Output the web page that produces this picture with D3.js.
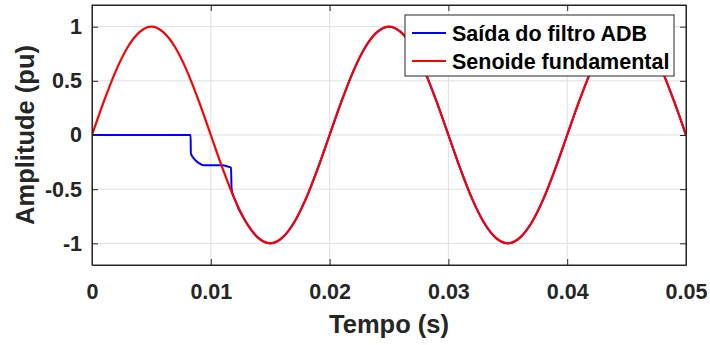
<!DOCTYPE html>
<html><head><meta charset="utf-8">
<script src="https://cdn.jsdelivr.net/npm/d3@7"></script>
<style>body{margin:0;background:#fff}svg{display:block}text{font-family:"Liberation Sans",Arial,sans-serif;font-weight:bold;fill:#262626}</style>
</head><body><svg id="c" width="710" height="345"></svg>
<script>
const xTicks=[0,0.01,0.02,0.03,0.04,0.05];
const yTicks=[-1,-0.5,0,0.5,1];
const xTickLabels=["0","0.01","0.02","0.03","0.04","0.05"];
const yTickLabels=["-1","-0.5","0","0.5","1"];
const seriesNames=["Saída do filtro ADB","Senoide fundamental"];
// red: fundamental, sampled every 1 ms
const redT=[0,0.001,0.002,0.003,0.004,0.005,0.006,0.007,0.008,0.009,0.010,0.011,0.012,0.013,0.014,0.015,0.016,0.017,0.018,0.019,0.020,0.021,0.022,0.023,0.024,0.025,0.026,0.027,0.028,0.029,0.030,0.031,0.032,0.033,0.034,0.035,0.036,0.037,0.038,0.039,0.040,0.041,0.042,0.043,0.044,0.045,0.046,0.047,0.048,0.049,0.050];
const redV=[0,0.31,0.59,0.81,0.95,1,0.95,0.81,0.59,0.31,0,-0.31,-0.59,-0.81,-0.95,-1,-0.95,-0.81,-0.59,-0.31,0,0.31,0.59,0.81,0.95,1,0.95,0.81,0.59,0.31,0,-0.31,-0.59,-0.81,-0.95,-1,-0.95,-0.81,-0.59,-0.31,0,0.31,0.59,0.81,0.95,1,0.95,0.81,0.59,0.31,0];
// blue: filter output
const blueT=[0,0.0083,0.00832,0.0086,0.0090,0.0094,0.0098,0.0104,0.0110,0.0114,0.0117,0.01175,0.012,0.013,0.014,0.015,0.016,0.017,0.018,0.019,0.020,0.021,0.022,0.023,0.024,0.025,0.026,0.027,0.028,0.029,0.030,0.031,0.032,0.033,0.034,0.035,0.036,0.037,0.038,0.039,0.040,0.041,0.042,0.043,0.044,0.045,0.046,0.047,0.048,0.049,0.050];
const blueV=[0,0,-0.17,-0.22,-0.26,-0.28,-0.28,-0.28,-0.28,-0.29,-0.30,-0.50,-0.59,-0.81,-0.95,-1,-0.95,-0.81,-0.59,-0.31,0,0.31,0.59,0.81,0.95,1,0.95,0.81,0.59,0.31,0,-0.31,-0.59,-0.81,-0.95,-1,-0.95,-0.81,-0.59,-0.31,0,0.31,0.59,0.81,0.95,1,0.95,0.81,0.59,0.31,0];

const svg=d3.select("#c");
const m={l:92,r:686,t:5,b:265};
const x=d3.scaleLinear().domain([0,0.05]).range([m.l,m.r]);
const y=d3.scaleLinear().domain([-1.2,1.2]).range([m.b,m.t]);

// grid
svg.append("g").selectAll("line").data(xTicks).join("line")
 .attr("x1",d=>x(d)).attr("x2",d=>x(d)).attr("y1",m.t).attr("y2",m.b).attr("stroke","#dfdfdf").attr("stroke-width",1);
svg.append("g").selectAll("line").data(yTicks).join("line")
 .attr("y1",d=>y(d)).attr("y2",d=>y(d)).attr("x1",m.l).attr("x2",m.r).attr("stroke","#dfdfdf").attr("stroke-width",1);

const line=d3.line().x(d=>x(d[0])).y(d=>y(d[1])).curve(d3.curveMonotoneX);
svg.append("clipPath").attr("id","cp").append("rect").attr("x",m.l).attr("y",m.t).attr("width",m.r-m.l).attr("height",m.b-m.t);
svg.append("path").datum(blueT.map((t,i)=>[t,blueV[i]])).attr("d",line)
 .attr("fill","none").attr("stroke","#0000ff").attr("stroke-width",2).attr("clip-path","url(#cp)");
svg.append("path").datum(redT.map((t,i)=>[t,redV[i]])).attr("d",line)
 .attr("fill","none").attr("stroke","#ff0000").attr("stroke-width",2.2).attr("clip-path","url(#cp)");

// axes
const fs=21.5;
const xa=svg.append("g").attr("transform",`translate(0,${m.b})`).call(d3.axisBottom(x).tickValues(xTicks).tickFormat((d,i)=>xTickLabels[i]).tickSizeInner(-6).tickSizeOuter(0).tickPadding(19));
const xt=svg.append("g").attr("transform",`translate(0,${m.t})`).call(d3.axisTop(x).tickValues(xTicks).tickFormat("").tickSizeInner(-6).tickSizeOuter(0));
const ya=svg.append("g").attr("transform",`translate(${m.l},0)`).call(d3.axisLeft(y).tickValues(yTicks).tickFormat((d,i)=>yTickLabels[i]).tickSizeInner(-6).tickSizeOuter(0).tickPadding(10));
const yr=svg.append("g").attr("transform",`translate(${m.r},0)`).call(d3.axisRight(y).tickValues(yTicks).tickFormat("").tickSizeInner(-6).tickSizeOuter(0));
[xa,xt,ya,yr].forEach(g=>{g.selectAll("path").attr("stroke","#262626");g.selectAll("line").attr("stroke","#262626");g.selectAll("text").attr("font-size",fs).attr("font-family","Liberation Sans, Arial, sans-serif").attr("font-weight","bold").attr("fill","#262626");});
svg.append("rect").attr("x",m.l).attr("y",m.t).attr("width",m.r-m.l).attr("height",m.b-m.t).attr("fill","none").attr("stroke","#262626").attr("stroke-width",1);

svg.append("text").attr("x",(m.l+m.r)/2).attr("y",333).attr("text-anchor","middle").attr("font-size",25.5).text("Tempo (s)");
svg.append("text").attr("transform",`translate(34,${(m.t+m.b)/2}) rotate(-90)`).attr("text-anchor","middle").attr("font-size",25.5).text("Amplitude (pu)");

// legend
const lg=svg.append("g");
lg.append("rect").attr("x",405).attr("y",15).attr("width",269).attr("height",61).attr("fill","#fff").attr("stroke","#262626").attr("stroke-width",1);
const cols=["#0000ff","#ff0000"];
seriesNames.forEach((n,i)=>{
  const yy=33+i*28;
  lg.append("line").attr("x1",412).attr("x2",446).attr("y1",yy).attr("y2",yy).attr("stroke",cols[i]).attr("stroke-width",2);
  lg.append("text").attr("x",452).attr("y",yy+7.5).attr("font-size",fs).style("fill","#000").text(n);
});
</script></body></html>
